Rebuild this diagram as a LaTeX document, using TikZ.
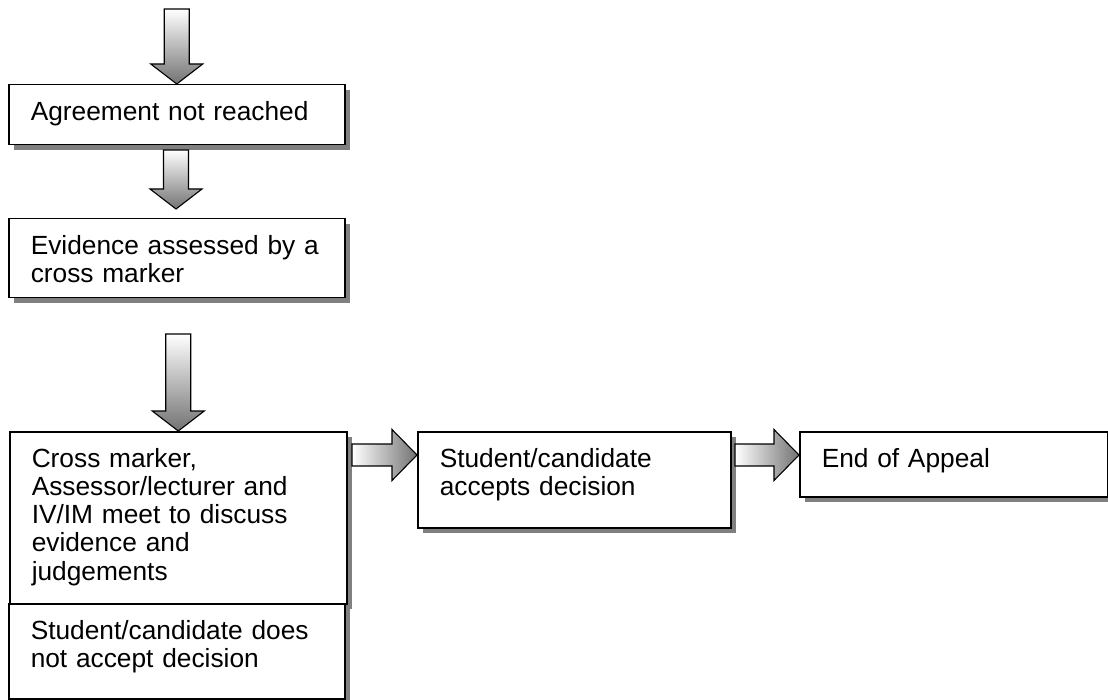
\documentclass[tikz,border=0pt]{standalone}
\usepackage{fontspec}
\setmainfont{Liberation Sans}
\usetikzlibrary{shadows,calc}
\tikzset{
  stepbox/.style={draw=black, line width=1.5pt, fill=white, anchor=north west,
    align=left, inner xsep=22pt, inner ysep=16.5pt, text height=19pt,
    font=\fontsize{26.3}{28.2}\selectfont,
    drop shadow={shadow xshift=5pt, shadow yshift=-5pt, fill=black!50, opacity=1}},
  blockarrow/.style={draw=black, line width=1.1pt, line join=miter},
  downshade/.style={top color=white, bottom color=black!55},
  rightshade/.style={left color=white, right color=black!55},
}
\newcommand{\blockdown}[2]{%
  \path[blockarrow, downshade] let \p1=(#1), \p2=(#2) in
    (\x2-12.5pt,\y1) -- (\x2+12.5pt,\y1) -- (\x2+12.5pt,\y2+20pt) -- (\x2+26pt,\y2+20pt)
    -- (\x2,\y2) -- (\x2-26pt,\y2+20pt) -- (\x2-12.5pt,\y2+20pt) -- cycle;}
\newcommand{\blockright}[2]{%
  \path[blockarrow, rightshade] let \p1=(#1), \p2=(#2) in
    (\x1,\y2+11pt) -- (\x2-25pt,\y2+11pt) -- (\x2-25pt,\y2+25.5pt) -- (\x2,\y2)
    -- (\x2-25pt,\y2-25.5pt) -- (\x2-25pt,\y2-11pt) -- (\x1,\y2-11pt) -- cycle;}
\begin{document}
\begin{tikzpicture}[x=1pt,y=-1pt]
\fill[white] (0,0) rectangle (1108,700);
\useasboundingbox (0,0) rectangle (1108,700);

\node[stepbox, text width=292pt, text depth=8pt] (agree) at (8,84) {Agreement not reached};
\node[stepbox, text width=292pt, text depth=27pt] (evid) at (8,218) {Evidence assessed by a\\cross marker};
\node[stepbox, text width=293pt, text depth=120pt] (meet) at (9,431) {Cross marker,\\Assessor/lecturer and\\IV/IM meet to discuss\\evidence and\\judgements};
\node[stepbox, text width=269pt, text depth=44pt] (acc) at (417,431) {Student/candidate\\accepts decision};
\node[stepbox, text width=264pt, text depth=13pt] (endap) at (799,431) {End of Appeal};
\node[stepbox, text width=292pt, text depth=43pt] (noacc) at (8,603) {Student/candidate does\\not accept decision};

\coordinate (a1s) at (176,9);
\coordinate (a2s) at (176,150);
\coordinate (a2e) at (176,209);
\coordinate (a3s) at (176,334);
\coordinate (r1s) at (352,455);
\coordinate (r1e) at ($(acc.north west)+(0,24)$);
\coordinate (r2s) at (735,455);
\coordinate (r2e) at ($(endap.north west)+(0,24)$);

\blockdown{a1s}{agree.north}
\blockdown{a2s}{a2e}
\blockdown{a3s}{meet.north}
\blockright{r1s}{r1e}
\blockright{r2s}{r2e}
\end{tikzpicture}
\end{document}
